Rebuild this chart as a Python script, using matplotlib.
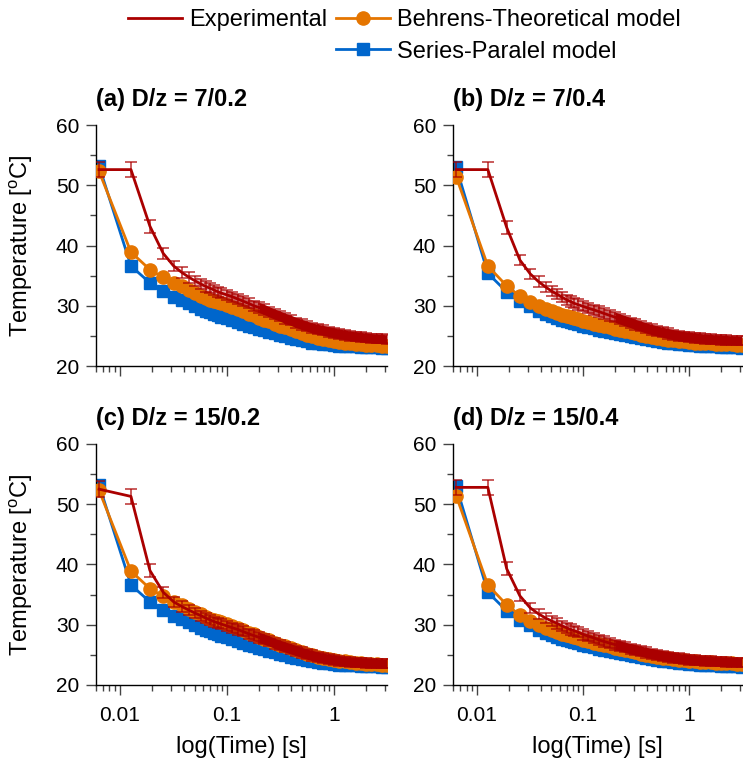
import matplotlib
matplotlib.use("Agg")
import matplotlib.pyplot as plt
from matplotlib.lines import Line2D
from matplotlib.ticker import FuncFormatter, MultipleLocator, NullFormatter, LogLocator

plt.rcParams['font.family'] = ['Liberation Sans', 'DejaVu Sans']
plt.rcParams['mathtext.fontset'] = 'custom'
plt.rcParams['mathtext.rm'] = 'Liberation Sans'

# sample times [s]
time = [0.0064, 0.0127, 0.0191, 0.0254, 0.0318, 0.0381, 0.0445, 0.0508, 0.0572,
        0.0635, 0.0699, 0.0762, 0.0826, 0.0889, 0.1, 0.112, 0.127, 0.14, 0.159,
        0.178, 0.2, 0.222, 0.248, 0.28, 0.311, 0.35, 0.394, 0.444, 0.5, 0.559,
        0.629, 0.705, 0.794, 0.889, 1.0, 1.124, 1.257, 1.41, 1.588, 1.778, 2.0,
        2.235, 2.515, 2.819, 3.124]

# Behrens model, z = 0.2 and z = 0.4
behrens_02 = [52.3, 38.9, 36.0, 34.7, 33.8, 33.2, 32.6, 32.1, 31.7, 31.3, 31.0, 30.8,
              30.6, 30.4, 30.1, 29.8, 29.4, 29.1, 28.7, 28.4, 28.0, 27.7, 27.4, 27.0,
              26.7, 26.4, 26.1, 25.8, 25.5, 25.2, 25.0, 24.7, 24.5, 24.3, 24.2, 24.0,
              23.9, 23.8, 23.7, 23.6, 23.55, 23.5, 23.45, 23.4, 23.4]
behrens_04 = [51.4, 36.6, 33.3, 31.6, 30.7, 30.0, 29.5, 29.1, 28.8, 28.5, 28.3, 28.1,
              27.9, 27.75, 27.5, 27.3, 27.0, 26.8, 26.6, 26.4, 26.2, 26.0, 25.8, 25.6,
              25.4, 25.2, 25.0, 24.85, 24.7, 24.55, 24.4, 24.3, 24.2, 24.1, 24.0, 23.9,
              23.85, 23.8, 23.75, 23.7, 23.65, 23.6, 23.6, 23.55, 23.5]

# series-parallel model, z = 0.2 and z = 0.4
series_02 = [53.2, 36.6, 33.8, 32.4, 31.5, 30.9, 30.4, 29.9, 29.5, 29.2, 28.9, 28.6,
             28.4, 28.2, 27.9, 27.6, 27.3, 27.0, 26.7, 26.4, 26.1, 25.9, 25.6, 25.4,
             25.1, 24.9, 24.7, 24.5, 24.3, 24.1, 23.9, 23.8, 23.7, 23.6, 23.5, 23.4,
             23.35, 23.3, 23.25, 23.2, 23.15, 23.1, 23.1, 23.05, 23.0]
series_04 = [53.0, 35.4, 32.3, 30.8, 29.9, 29.2, 28.7, 28.3, 28.0, 27.7, 27.5, 27.3,
             27.1, 26.95, 26.7, 26.5, 26.25, 26.05, 25.85, 25.65, 25.45, 25.3, 25.1, 24.9,
             24.75, 24.6, 24.45, 24.3, 24.15, 24.0, 23.9, 23.8, 23.7, 23.6, 23.5, 23.45,
             23.4, 23.35, 23.3, 23.25, 23.2, 23.15, 23.1, 23.1, 23.05]

# measurements
exp_a = [52.6, 52.6, 43.2, 38.7, 36.6, 35.5, 34.7, 34.1, 33.6, 33.2, 32.9, 32.6,
         32.3, 32.1, 31.8, 31.5, 31.1, 30.8, 30.4, 30.0, 29.7, 29.4, 29.0, 28.6,
         28.3, 27.9, 27.6, 27.2, 26.9, 26.6, 26.3, 26.1, 25.9, 25.7, 25.5, 25.3,
         25.2, 25.0, 24.9, 24.8, 24.7, 24.6, 24.5, 24.5, 24.4]
exp_b = [52.6, 52.6, 43.0, 37.6, 35.3, 34.0, 33.1, 32.4, 31.9, 31.4, 31.0, 30.7,
         30.4, 30.2, 29.9, 29.6, 29.3, 29.05, 28.7, 28.4, 28.1, 27.8, 27.5, 27.2,
         26.9, 26.6, 26.3, 26.05, 25.8, 25.6, 25.4, 25.2, 25.05, 24.9, 24.8, 24.7,
         24.6, 24.5, 24.45, 24.4, 24.35, 24.3, 24.25, 24.2, 24.2]
exp_c = [52.5, 51.3, 39.0, 35.4, 33.8, 33.0, 32.4, 31.9, 31.5, 31.1, 30.8, 30.5,
         30.3, 30.1, 29.8, 29.5, 29.2, 28.9, 28.5, 28.2, 27.9, 27.6, 27.3, 26.9,
         26.6, 26.3, 26.0, 25.7, 25.4, 25.1, 24.9, 24.65, 24.45, 24.3, 24.15, 24.0,
         23.9, 23.8, 23.75, 23.7, 23.65, 23.6, 23.55, 23.5, 23.5]
exp_d = [52.8, 52.8, 39.3, 34.8, 32.8, 31.8, 31.1, 30.6, 30.2, 29.8, 29.5, 29.2,
         29.0, 28.8, 28.4, 28.1, 27.8, 27.5, 27.2, 26.95, 26.7, 26.5, 26.25, 26.0,
         25.8, 25.6, 25.4, 25.2, 25.0, 24.85, 24.7, 24.55, 24.4, 24.3, 24.2, 24.1,
         24.05, 24.0, 23.95, 23.9, 23.85, 23.8, 23.8, 23.75, 23.7]
exp_err = [1.3, 1.3, 1.05, 0.9, 0.88, 0.86, 0.85, 0.85, 0.85, 0.85, 0.85, 0.85,
           0.85, 0.85, 0.85, 0.85, 0.85, 0.85, 0.85, 0.85, 0.85, 0.85, 0.85, 0.85,
           0.85, 0.85, 0.85, 0.85, 0.84, 0.84, 0.84, 0.83, 0.83, 0.82, 0.82, 0.81,
           0.8, 0.8, 0.79, 0.78, 0.78, 0.77, 0.76, 0.76, 0.75]

titles = ['(a) D/z = 7/0.2', '(b) D/z = 7/0.4', '(c) D/z = 15/0.2', '(d) D/z = 15/0.4']
experiments = [exp_a, exp_b, exp_c, exp_d]
behrens = [behrens_02, behrens_04, behrens_02, behrens_04]
series = [series_02, series_04, series_02, series_04]

red = '#aa0000'
orange = '#e57500'
blue = '#0066cc'

fig = plt.figure(figsize=(7.43, 7.60), dpi=100)
rects = [[0.129, 0.5184, 0.392, 0.3171],
         [0.6097, 0.5184, 0.389, 0.3171],
         [0.129, 0.0987, 0.392, 0.3171],
         [0.6097, 0.0987, 0.389, 0.3171]]

for i in range(4):
    ax = fig.add_axes(rects[i])
    ax.plot(time, series[i], color=blue, lw=2, marker='s', ms=8.5, zorder=2)
    ax.plot(time, behrens[i], color=orange, lw=2, marker='o', ms=9.5, zorder=3)

    # the error bars run together into a band at later times
    lo = [v - e for v, e in zip(experiments[i], exp_err)]
    hi = [v + e for v, e in zip(experiments[i], exp_err)]
    ax.fill_between(time, lo, hi, where=[0.05 <= t <= 0.1 for t in time],
                    color=red, alpha=0.3, lw=0, zorder=4)
    ax.fill_between(time, lo, hi, where=[0.1 <= t <= 0.2 for t in time],
                    color=red, alpha=0.6, lw=0, zorder=4)
    ax.fill_between(time, lo, hi, where=[t >= 0.2 for t in time],
                    color=red, alpha=1.0, lw=0, zorder=4)
    ax.errorbar(time, experiments[i], yerr=exp_err, color=red, lw=2,
                ecolor=(0.67, 0, 0, 0.75), elinewidth=1.2, capsize=4, capthick=1.2,
                zorder=5)

    ax.set_xscale('log')
    ax.set_xlim(0.00597, 3.13)
    ax.set_ylim(20, 60)
    ax.yaxis.set_major_locator(MultipleLocator(10))
    ax.yaxis.set_minor_locator(MultipleLocator(5))
    ax.xaxis.set_major_locator(LogLocator(base=10))
    ax.xaxis.set_minor_locator(LogLocator(base=10, subs=range(2, 10)))
    ax.xaxis.set_minor_formatter(NullFormatter())
    ax.xaxis.set_major_formatter(FuncFormatter(lambda v, p: '{:g}'.format(v)))

    for s in ['top', 'right']:
        ax.spines[s].set_visible(False)
    for s in ['left', 'bottom']:
        ax.spines[s].set_linewidth(1.0)
    ax.tick_params(which='major', length=7, width=1.0, color='#444444',
                   labelsize=15, pad=5)
    ax.tick_params(axis='x', which='major', pad=8)
    ax.tick_params(which='minor', length=4, width=1.0, color='#444444')

    ax.set_title(titles[i], loc='left', fontsize=17, fontweight='bold', pad=14)
    if i < 2:
        ax.tick_params(axis='x', labelbottom=False)
    else:
        ax.set_xlabel('log(Time) [s]', fontsize=17, labelpad=8)
    if i % 2 == 0:
        ax.set_ylabel('Temperature [$^{\\rm o}$C]', fontsize=17, labelpad=15)

# two-column legend, first column holds only the measurement entry
h_exp = Line2D([], [], color=red, lw=2)
h_beh = Line2D([], [], color=orange, lw=2, marker='o', ms=9.5)
h_ser = Line2D([], [], color=blue, lw=2, marker='s', ms=8.5)
h_blank = Line2D([], [], alpha=0)
fig.legend([h_exp, h_blank, h_beh, h_ser],
           ['Experimental', '', 'Behrens-Theoretical model', 'Series-Paralel model'],
           ncol=2, loc='upper center', bbox_to_anchor=(0.544, 1.016),
           frameon=False, fontsize=17, handlelength=2.3, handletextpad=0.3,
           columnspacing=0.35, labelspacing=0.4)

fig.savefig('out.png', dpi=100)
